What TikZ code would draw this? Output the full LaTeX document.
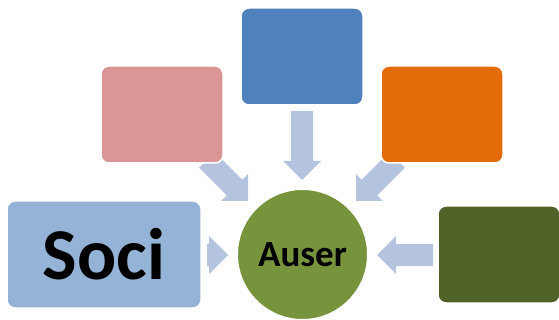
\documentclass[tikz,border=0pt]{standalone}
\usepackage{fontspec}
\newfontfamily\calibri{Carlito}
\definecolor{arrowc}{HTML}{B4C4DE}
\definecolor{socic}{HTML}{95B3D7}
\definecolor{pinkc}{HTML}{D99694}
\definecolor{bluec}{HTML}{4F81BD}
\definecolor{orangec}{HTML}{E36C09}
\definecolor{dgreenc}{HTML}{4F6228}
\definecolor{circc}{HTML}{77933C}
\tikzset{
  box/.style={rectangle, rounded corners=8pt, draw=white, line width=1.5pt, inner sep=0pt},
  smallbox/.style={box, minimum width=122pt, minimum height=97pt},
  hub/.style={circle, fill=circc, draw=white, line width=1pt, minimum size=130pt, inner sep=0pt},
  blockarrow/.style={fill=arrowc, draw=none}
}
% #1 tip coordinate, #2 canvas angle, #3 total length
\newcommand{\myblockarrow}[3]{%
  \begin{scope}[shift={#1}, rotate=#2]
    \fill[blockarrow] (0,0) -- (-19,19) -- (-19,11) -- (-#3,11) -- (-#3,-11)
      -- (-19,-11) -- (-19,-19) -- cycle;
  \end{scope}}
\begin{document}
\begin{tikzpicture}[x=1pt, y=-1pt]
  \useasboundingbox (0,0) rectangle (559,320);
  % arrows (behind boxes)
  \myblockarrow{(302,180)}{-90}{69}
  \myblockarrow{(377,255)}{180}{56}
  \myblockarrow{(228,255)}{0}{21}
  \myblockarrow{(248,201)}{-45}{58}
  \myblockarrow{(356,201)}{-135}{58}
  % boxes
  \node[box, fill=socic, minimum width=194pt, minimum height=107pt] (soci) at (104,254.5)
    {\calibri\bfseries\fontsize{73}{73}\selectfont Soci};
  \node[smallbox, fill=pinkc] (pink) at (162,114.5) {};
  \node[smallbox, fill=bluec] (blue) at (302,56.5) {};
  \node[smallbox, fill=orangec] (orange) at (442,114.5) {};
  \node[smallbox, fill=dgreenc] (dgreen) at (499,254.5) {};
  \node[hub] (auser) at (302.5,254.5)
    {\calibri\bfseries\fontsize{37}{37}\selectfont Auser};
\end{tikzpicture}
\end{document}
